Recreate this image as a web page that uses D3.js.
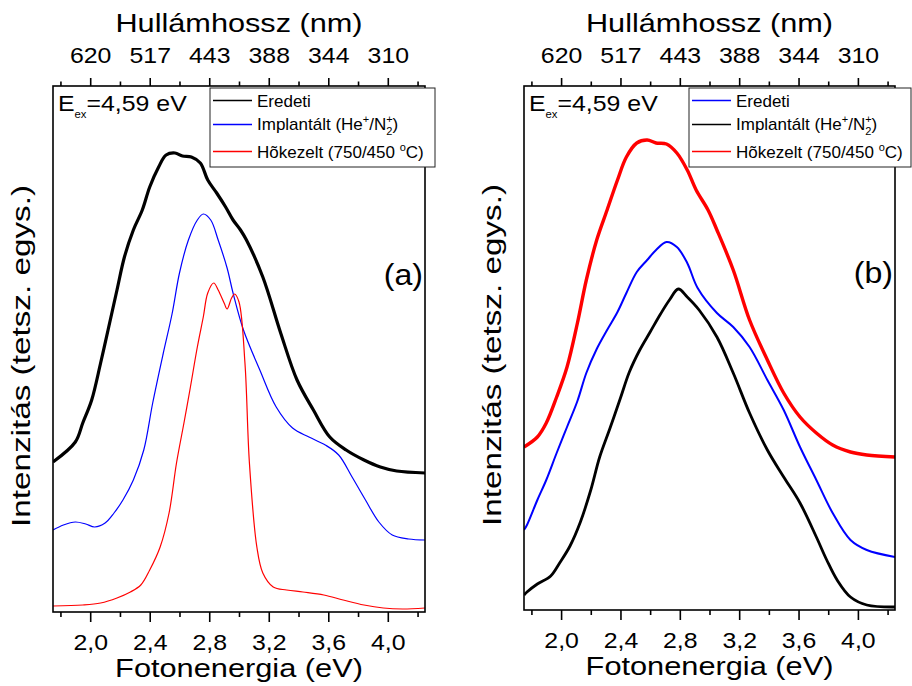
<!DOCTYPE html>
<html>
<head>
<meta charset="utf-8">
<script src="https://cdn.jsdelivr.net/npm/d3@7"></script>
<style>
  body { margin: 0; background: #fff; }
  text { font-family: "Liberation Sans", Arial, sans-serif; fill: #000; }
</style>
</head>
<body>
<svg id="chart" width="912" height="686"></svg>
<script>
// axis ticks
let majorTicks = [2.0, 2.4, 2.8, 3.2, 3.6, 4.0]
let minorTicks = [1.8, 2.2, 2.6, 3.0, 3.4, 3.8, 4.2]
let wavelengthLabels = ["620", "517", "443", "388", "344", "310"]

// panel (a) - photon energy (eV) and intensity (arb. units)
let aBlackE = [1.75, 1.90, 1.95, 2.01, 2.07, 2.12, 2.18, 2.23, 2.29, 2.35, 2.40, 2.46, 2.51, 2.57, 2.62, 2.68, 2.74, 2.79, 2.85, 2.91, 2.96, 3.01, 3.05, 3.16, 3.28, 3.39, 3.50, 3.61, 3.72, 3.84, 3.95, 4.06, 4.25]
let aBlackI = [150, 170, 189, 212, 249, 282, 322, 355, 382, 402, 425, 445, 457, 459, 456, 455, 449, 432, 419, 405, 392, 382, 372, 335, 279, 232, 202, 175, 162, 152, 145, 141, 139]

let aBlueE = [1.75, 1.82, 1.90, 1.97, 2.03, 2.10, 2.16, 2.22, 2.29, 2.36, 2.42, 2.49, 2.55, 2.60, 2.66, 2.72, 2.76, 2.81, 2.86, 2.92, 2.96, 3.03, 3.14, 3.25, 3.36, 3.47, 3.58, 3.67, 3.76, 3.85, 3.94, 4.03, 4.14, 4.25]
let aBlueI = [82, 87, 90, 88, 85, 89, 99, 112, 132, 162, 209, 258, 298, 339, 372, 392, 398, 392, 372, 344, 319, 282, 242, 205, 184, 175, 167, 157, 135, 112, 90, 77, 73, 72]

let aRedE = [1.75, 1.95, 2.07, 2.18, 2.27, 2.34, 2.40, 2.47, 2.53, 2.58, 2.63, 2.67, 2.72, 2.76, 2.79, 2.83, 2.86, 2.90, 2.92, 2.95, 2.97, 3.00, 3.04, 3.07, 3.12, 3.16, 3.23, 3.32, 3.43, 3.57, 3.70, 3.84, 3.97, 4.10, 4.25]
let aRedI = [6, 7, 9, 14, 20, 27, 42, 65, 99, 149, 189, 222, 265, 295, 319, 329, 322, 309, 303, 314, 318, 310, 249, 149, 65, 39, 25, 22, 20, 17, 12, 7, 4, 3, 4]

// panel (b)
let bRedE = [1.75, 1.84, 1.90, 1.97, 2.04, 2.11, 2.17, 2.24, 2.31, 2.38, 2.44, 2.51, 2.58, 2.64, 2.71, 2.78, 2.85, 2.91, 2.99, 3.05, 3.16, 3.27, 3.39, 3.50, 3.61, 3.72, 3.83, 3.95, 4.06, 4.25]
let bRedI = [163, 173, 187, 213, 243, 287, 330, 370, 400, 430, 453, 467, 470, 467, 466, 457, 440, 420, 400, 380, 340, 290, 250, 217, 193, 177, 165, 158, 155, 153]

let bBlueE = [1.75, 1.77, 1.84, 1.90, 1.97, 2.04, 2.11, 2.17, 2.24, 2.31, 2.38, 2.44, 2.51, 2.58, 2.64, 2.71, 2.78, 2.85, 2.92, 3.05, 3.16, 3.27, 3.39, 3.50, 3.61, 3.72, 3.83, 3.95, 4.06, 4.25]
let bBlueI = [80, 85, 110, 130, 157, 183, 209, 237, 261, 280, 298, 317, 338, 350, 360, 368, 363, 347, 322, 297, 283, 263, 230, 200, 163, 130, 97, 70, 60, 53]

let bBlackE = [1.75, 1.77, 1.84, 1.93, 1.99, 2.06, 2.13, 2.20, 2.26, 2.33, 2.40, 2.46, 2.53, 2.60, 2.67, 2.73, 2.79, 2.85, 2.93, 3.05, 3.16, 3.27, 3.39, 3.50, 3.61, 3.72, 3.79, 3.86, 3.95, 4.06, 4.25]
let bBlackI = [15, 18, 26, 34, 47, 64, 88, 120, 153, 182, 212, 238, 260, 278, 296, 310, 321, 313, 300, 273, 237, 197, 160, 133, 107, 73, 50, 30, 13, 5, 3]

let svg = d3.select("#chart")

let panels = [
    {
        left: 53, right: 425, top: 86, bottom: 612, letter: "(a)", letterX: 423, letterY: 285,
        legendX: 210, legendW: 225,
        series: [
            {key: "ered", color: "#000000", width: 3.2, e: aBlackE, v: aBlackI},
            {key: "impl", color: "#0000ff", width: 1.2, e: aBlueE, v: aBlueI},
            {key: "hok", color: "#ff0000", width: 1.2, e: aRedE, v: aRedI}
        ]
    },
    {
        left: 524, right: 895, top: 86, bottom: 610, letter: "(b)", letterX: 893, letterY: 283,
        legendX: 689, legendW: 222,
        series: [
            {key: "hok", color: "#ff0000", width: 3.4, e: bRedE, v: bRedI},
            {key: "ered", color: "#0000ff", width: 2.0, e: bBlueE, v: bBlueI},
            {key: "impl", color: "#000000", width: 2.8, e: bBlackE, v: bBlackI}
        ]
    }
]

let legendOrder = ["ered", "impl", "hok"]

let commaFormat = (d) => d3.format(".1f")(d).replace(".", ",")

// legend texts with sub/superscripts
let writeLabel = (text, key) => {
    if (key === "ered") {
        text.text("Eredeti")
    } else if (key === "impl") {
        text.append("tspan").text("Implantált (He")
        text.append("tspan").attr("font-size", 11).attr("dy", -7).text("+")
        text.append("tspan").attr("dy", 7).text("/N")
        text.append("tspan").attr("font-size", 11).attr("dy", -7).text("+")
        text.append("tspan").attr("font-size", 11).attr("dx", -6.4).attr("dy", 12).text("2")
        text.append("tspan").attr("dy", -5).text(")")
    } else {
        text.append("tspan").text("Hõkezelt (750/450 ")
        text.append("tspan").attr("font-size", 11).attr("dy", -7).text("o")
        text.append("tspan").attr("dy", 7).text("C)")
    }
}

panels.forEach((p, pi) => {
    let g = svg.append("g")

    let x = d3.scaleLinear().domain([1.75, 4.25]).range([p.left, p.right])
    let y = d3.scaleLinear().domain([0, p.bottom - p.top]).range([p.bottom, p.top])

    let clipId = "clip" + pi
    g.append("clipPath").attr("id", clipId)
        .append("rect")
        .attr("x", p.left).attr("y", p.top)
        .attr("width", p.right - p.left).attr("height", p.bottom - p.top)

    let line = d3.line()
        .x((d) => x(d[0]))
        .y((d) => y(d[1]))
        .curve(d3.curveCatmullRom.alpha(0.5))

    p.series.forEach((s) => {
        g.append("path")
            .datum(s.e.map((e, i) => [e, s.v[i]]))
            .attr("clip-path", "url(#" + clipId + ")")
            .attr("fill", "none")
            .attr("stroke", s.color)
            .attr("stroke-width", s.width)
            .attr("stroke-linejoin", "round")
            .attr("d", line)
    })

    // bottom axis
    let bottomAxis = g.append("g")
        .attr("transform", "translate(0," + p.bottom + ")")
        .call(d3.axisBottom(x).tickValues(majorTicks).tickSize(10).tickFormat(commaFormat))
    bottomAxis.select(".domain").remove()
    bottomAxis.selectAll(".tick line").attr("stroke-width", 1.6)
    bottomAxis.selectAll(".tick text")
        .attr("y", 38).attr("dy", null)
        .attr("font-size", 22)
        .attr("font-family", "Liberation Sans, Arial, sans-serif")
        .attr("transform", "scale(1.13,1)")

    let bottomMinor = g.append("g")
        .attr("transform", "translate(0," + p.bottom + ")")
        .call(d3.axisBottom(x).tickValues(minorTicks).tickSize(5).tickFormat(""))
    bottomMinor.select(".domain").remove()
    bottomMinor.selectAll(".tick line").attr("stroke-width", 1.6)

    // top axis in wavelength
    let topAxis = g.append("g")
        .attr("transform", "translate(0," + p.top + ")")
        .call(d3.axisTop(x).tickValues(majorTicks).tickSize(8).tickFormat((d, i) => wavelengthLabels[i]))
    topAxis.select(".domain").remove()
    topAxis.selectAll(".tick line").attr("stroke-width", 1.6)
    topAxis.selectAll(".tick text")
        .attr("y", -23.5).attr("dy", null)
        .attr("font-size", 22)
        .attr("font-family", "Liberation Sans, Arial, sans-serif")
        .attr("transform", "scale(1.13,1)")

    let topMinor = g.append("g")
        .attr("transform", "translate(0," + p.top + ")")
        .call(d3.axisTop(x).tickValues(minorTicks).tickSize(4.5).tickFormat(""))
    topMinor.select(".domain").remove()
    topMinor.selectAll(".tick line").attr("stroke-width", 1.6)

    // frame
    g.append("rect")
        .attr("x", p.left).attr("y", p.top)
        .attr("width", p.right - p.left).attr("height", p.bottom - p.top)
        .attr("fill", "none").attr("stroke", "#000").attr("stroke-width", 1.6)

    let cx = (p.left + p.right) / 2

    // axis titles
    g.append("g")
        .attr("transform", "translate(" + cx + "," + (p.top - 54.5) + ") scale(1.18,1)")
        .append("text").attr("text-anchor", "middle").attr("font-size", 26)
        .text("Hullámhossz (nm)")

    g.append("g")
        .attr("transform", "translate(" + cx + "," + (p.bottom + 65) + ") scale(1.23,1)")
        .append("text").attr("text-anchor", "middle").attr("font-size", 25)
        .text("Fotonenergia (eV)")

    g.append("g")
        .attr("transform", "translate(" + (p.left - 23.5) + "," + ((p.top + p.bottom) / 2 + 7) + ") rotate(-90) scale(1.28,1)")
        .append("text").attr("text-anchor", "middle").attr("font-size", 26)
        .text("Intenzitás (tetsz. egys.)")

    // excitation energy
    let ex = g.append("g")
        .attr("transform", "translate(" + (p.left + 5) + "," + (p.top + 25) + ") scale(1.13,1)")
        .append("text").attr("font-size", 22)
    ex.append("tspan").text("E")
    ex.append("tspan").attr("font-size", 10).attr("dy", 7).text("ex")
    ex.append("tspan").attr("dy", -7).text("=4,59 eV")

    // panel letter
    g.append("g")
        .attr("transform", "translate(" + p.letterX + "," + p.letterY + ") scale(1.07,1)")
        .append("text").attr("text-anchor", "end").attr("font-size", 30)
        .text(p.letter)

    // legend
    let lg = g.append("g")
    lg.append("rect")
        .attr("x", p.legendX).attr("y", p.top + 2)
        .attr("width", p.legendW).attr("height", 79)
        .attr("fill", "#fff").attr("stroke", "#222").attr("stroke-width", 1)

    let rowLine = [14.5, 38.5, 65.5]
    let rowText = [20.5, 44, 72]
    legendOrder.forEach((key, i) => {
        let s = p.series.find((d) => d.key === key)
        lg.append("line")
            .attr("x1", p.legendX + 3).attr("x2", p.legendX + 42)
            .attr("y1", p.top + rowLine[i]).attr("y2", p.top + rowLine[i])
            .attr("stroke", s.color).attr("stroke-width", 1.3)
        let t = lg.append("g")
            .attr("transform", "translate(" + (p.legendX + 47) + "," + (p.top + rowText[i]) + ") scale(1.0,1)")
            .append("text").attr("font-size", 17)
        writeLabel(t, key)
    })
})
</script>
</body>
</html>
